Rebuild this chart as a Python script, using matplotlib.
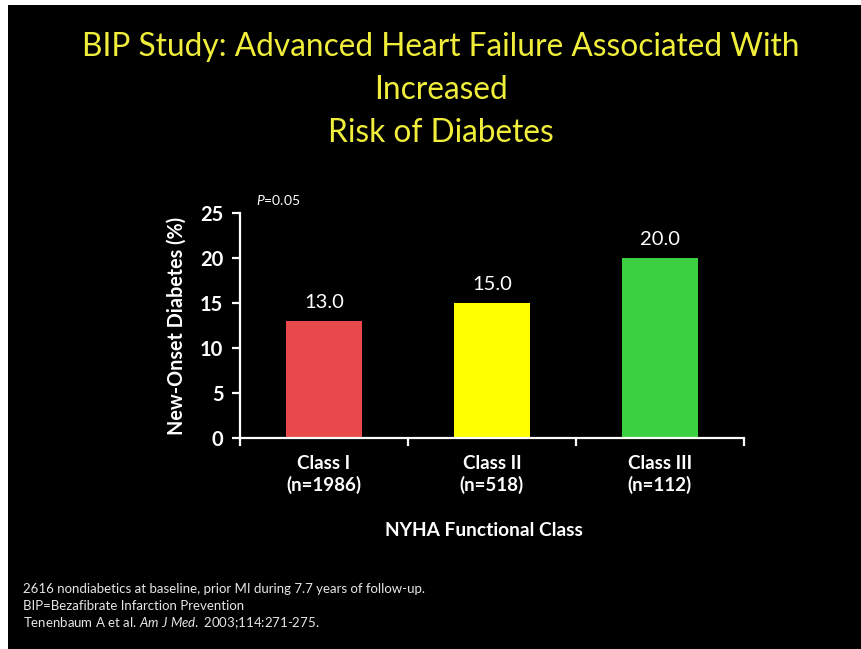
import matplotlib
matplotlib.use("Agg")
import matplotlib.pyplot as plt
from matplotlib.patches import Rectangle
import numpy as np

categories = ["Class I\n(n=1986)", "Class II\n(n=518)", "Class III\n(n=112)"]
values = [13.0, 15.0, 20.0]
bar_colors = ["#E84A4C", "#FFFF00", "#3AD03F"]
yticks = [0, 5, 10, 15, 20, 25]

W, H = 861, 649
fig = plt.figure(figsize=(W / 100, H / 100), dpi=100, facecolor="black")
plt.rcParams["font.family"] = ["Lato", "DejaVu Sans"]
plt.rcParams["mathtext.fontset"] = "custom"
plt.rcParams["mathtext.rm"] = "Lato"
plt.rcParams["mathtext.it"] = "Lato:italic"
plt.rcParams["mathtext.bf"] = "Lato:bold"

# white slide border (top and left)
fig.patches.append(Rectangle((0, 1 - 5 / H), 1, 5 / H, transform=fig.transFigure,
                             facecolor="white", edgecolor="none", zorder=0))
fig.patches.append(Rectangle((0, 0), 8 / W, 1, transform=fig.transFigure,
                             facecolor="white", edgecolor="none", zorder=0))

ax = fig.add_axes([240 / W, (H - 438) / H, 504 / W, 225 / H])
ax.set_facecolor("black")
x = np.arange(len(values))
ax.bar(x, values, width=0.45, color=bar_colors, zorder=2)
ax.set_xlim(-0.5, len(values) - 0.5)
ax.set_ylim(0, 25)
for xi, v in zip(x, values):
    ax.text(xi, v + 1.1, f"{v:.1f}", ha="center", va="bottom", color="white",
            fontsize=14.5)

for s in ["top", "right"]:
    ax.spines[s].set_visible(False)
for s in ["left", "bottom"]:
    ax.spines[s].set_color("white")
    ax.spines[s].set_linewidth(1.6)

ax.set_yticks(yticks)
ax.set_yticklabels([str(t) for t in yticks], fontsize=14.5, fontweight="bold",
                   color="white")
ax.tick_params(axis="y", colors="white", length=6, width=1.6, direction="out", pad=6)

ax.set_xticks(np.arange(len(values) + 1) - 0.5)
ax.set_xticklabels([])
ax.tick_params(axis="x", colors="white", length=6, width=1.6, direction="out")
for xi, c in zip(x, categories):
    ax.text(xi, -1.9, c, ha="center", va="top", color="white", fontsize=13.5,
            fontweight="bold", linespacing=1.25)

ax.set_ylabel("New-Onset Diabetes (%)", color="white", fontsize=14.2,
              fontweight="bold", labelpad=10)
fig.text(484 / W, 1 - 530 / H, "NYHA Functional Class", ha="center", va="center",
         color="white", fontsize=13.8, fontweight="bold")

fig.text(256 / W, 1 - 200 / H, r"$\mathit{P}$=0.05", ha="left", va="center",
         color="white", fontsize=10)

fig.text(441 / W, 1 - 90 / H,
         "BIP Study: Advanced Heart Failure Associated With\nIncreased\nRisk of Diabetes",
         ha="center", va="center", color="#F0EE3A", fontsize=22.8, linespacing=1.53)

foot = ["2616 nondiabetics at baseline, prior MI during 7.7 years of follow-up.",
        "BIP=Bezafibrate Infarction Prevention"]
for i, t in enumerate(foot):
    fig.text(23 / W, 1 - (589 + 17 * i) / H, t, ha="left", va="center",
             color="#E6E6E6", fontsize=9.5)
fig.text(23 / W, 1 - 623 / H, r"Tenenbaum A et al. $\mathit{Am\ J\ Med.}$ 2003;114:271-275.",
         ha="left", va="center", color="#E6E6E6", fontsize=9.5)

fig.savefig("out.png", dpi=100, facecolor="black")
